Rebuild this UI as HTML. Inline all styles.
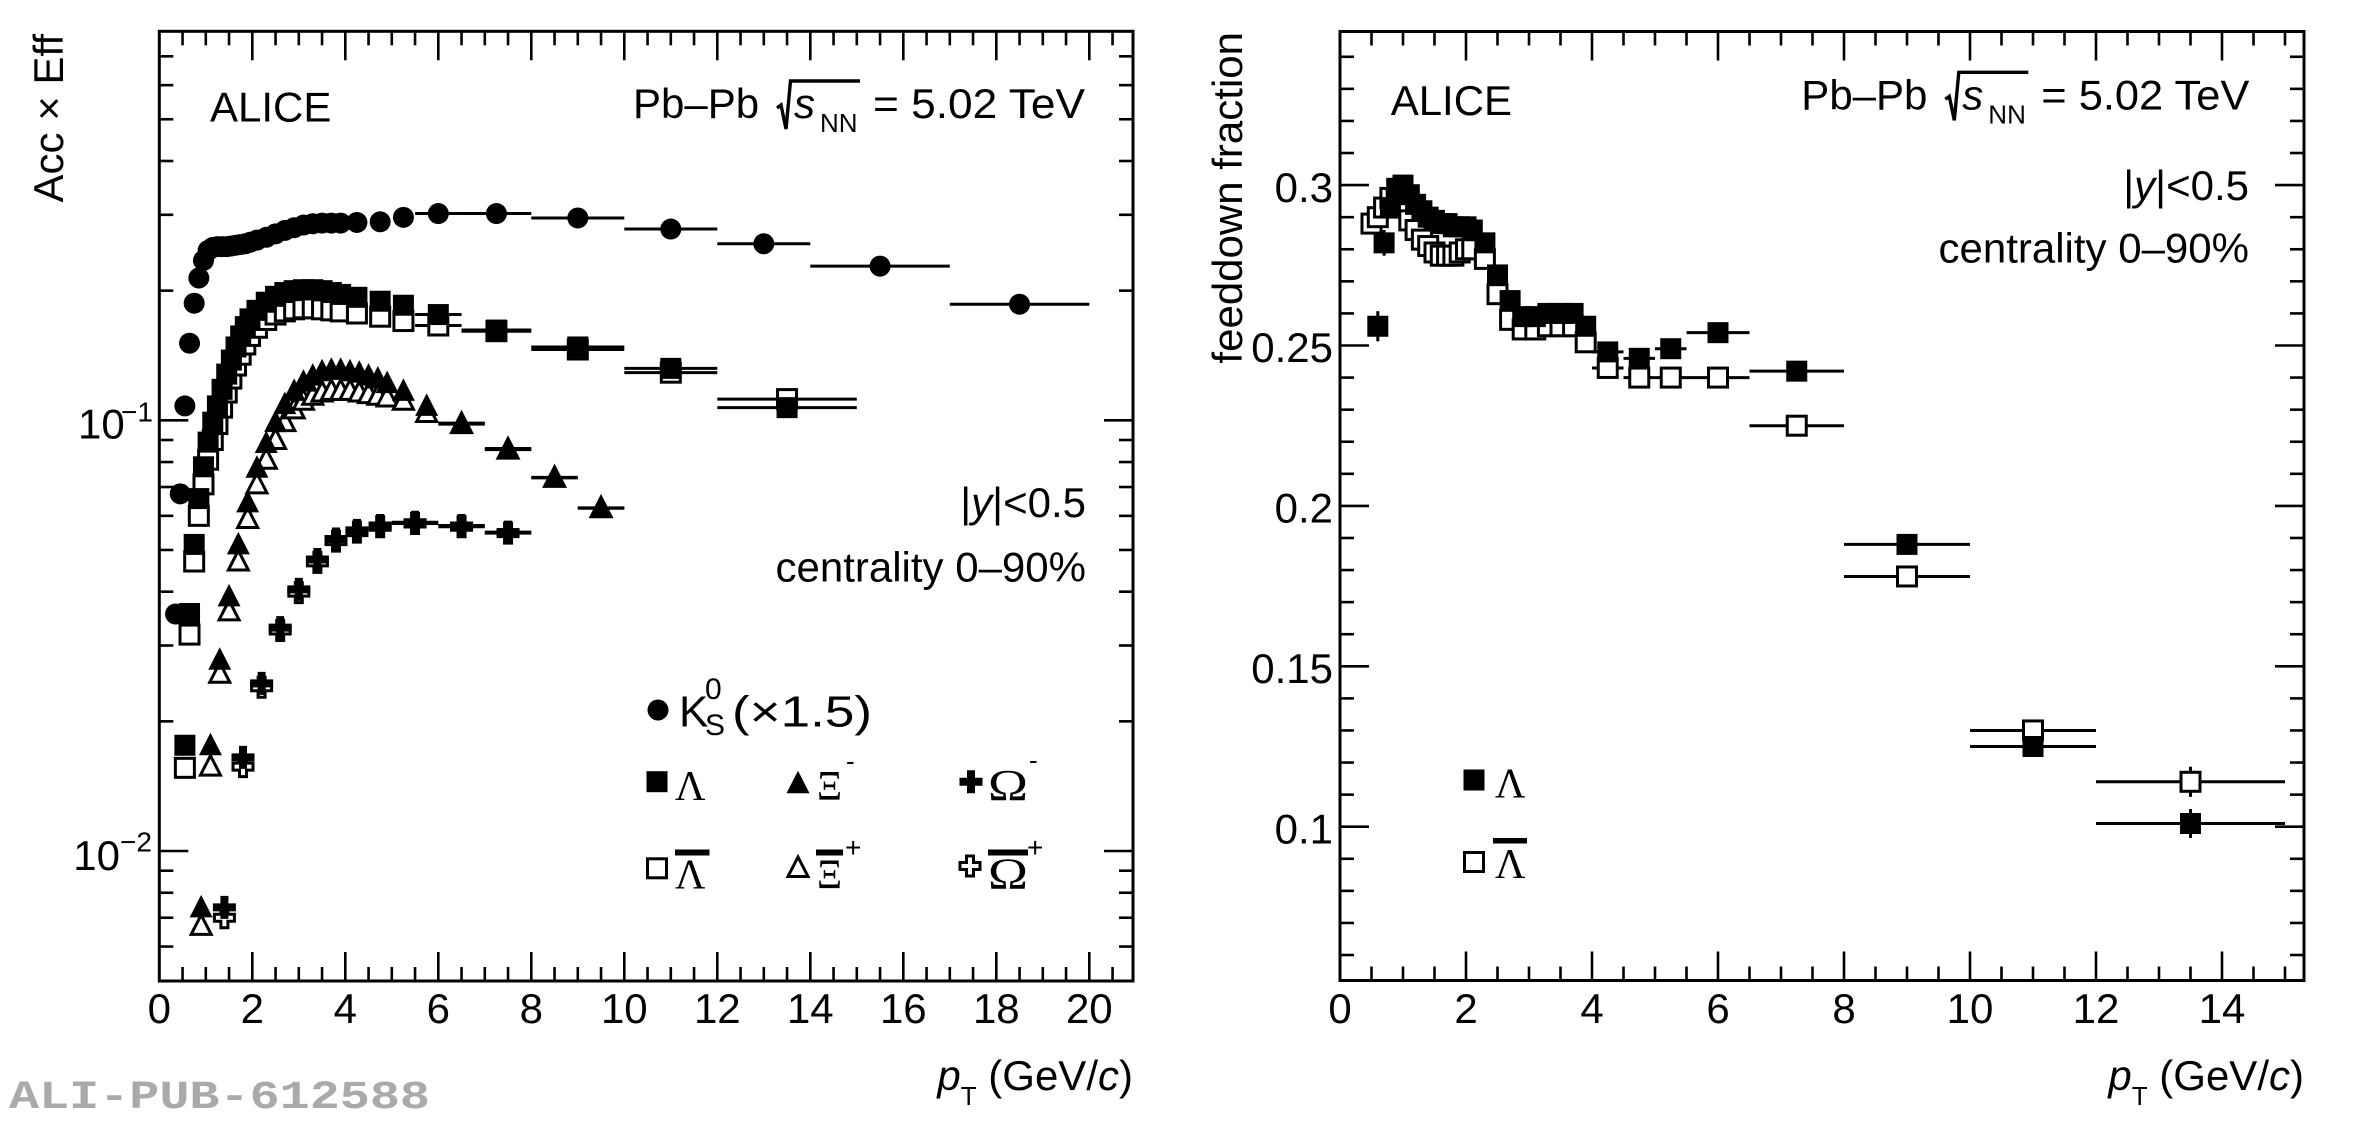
<!DOCTYPE html>
<html><head><meta charset="utf-8">
<style>
html,body{margin:0;padding:0;background:#fff;}
svg{display:block;}
text{font-family:"Liberation Sans",Arial,sans-serif;font-size:42px;fill:#000;}
.ser{font-family:"Liberation Serif","Times New Roman",serif;}
.it{font-style:italic;}
</style></head><body>
<svg id="c" width="2362" height="1125" viewBox="0 0 2362 1125" xmlns="http://www.w3.org/2000/svg">
<rect x="0" y="0" width="2362" height="1125" fill="#fff"/>
<g id="dyn"></g>
<!-- frames -->
<rect x="159.3" y="31.3" width="973.7" height="949.7" fill="none" stroke="#000" stroke-width="3"/>
<rect x="1340" y="31.5" width="964" height="949" fill="none" stroke="#000" stroke-width="3"/>

<!-- LEFT tick labels -->
<g text-anchor="middle">
<text x="159.3" y="1023">0</text><text x="252.3" y="1023">2</text><text x="345.3" y="1023">4</text>
<text x="438.3" y="1023">6</text><text x="531.3" y="1023">8</text><text x="624.3" y="1023">10</text>
<text x="717.3" y="1023">12</text><text x="810.3" y="1023">14</text><text x="903.3" y="1023">16</text>
<text x="996.3" y="1023">18</text><text x="1089.3" y="1023">20</text>
</g>
<text x="78" y="438.3">10</text><text x="121" y="421.5" style="font-size:28px">−1</text>
<text x="73.3" y="870">10</text><text x="120" y="851.5" style="font-size:28px">−2</text>

<!-- RIGHT tick labels -->
<g text-anchor="middle">
<text x="1340" y="1023">0</text><text x="1466" y="1023">2</text><text x="1592" y="1023">4</text>
<text x="1718" y="1023">6</text><text x="1844" y="1023">8</text><text x="1970" y="1023">10</text>
<text x="2096" y="1023">12</text><text x="2222" y="1023">14</text>
</g>
<g text-anchor="end">
<text x="1333" y="843.3">0.1</text><text x="1333" y="683">0.15</text><text x="1333" y="522.6">0.2</text>
<text x="1333" y="362.2">0.25</text><text x="1333" y="201.8">0.3</text>
</g>

<!-- axis titles -->
<text transform="translate(63,34) rotate(-90)" text-anchor="end">Acc × Eff</text>
<text transform="translate(1242,32) rotate(-90)" text-anchor="end">feeddown fraction</text>
<text x="1133" y="1090" text-anchor="end"><tspan class="it">p</tspan><tspan dy="15" style="font-size:26px">T</tspan><tspan dy="-15"> (GeV/</tspan><tspan class="it">c</tspan>)</text>
<text x="2304" y="1090" text-anchor="end"><tspan class="it">p</tspan><tspan dy="15" style="font-size:26px">T</tspan><tspan dy="-15"> (GeV/</tspan><tspan class="it">c</tspan>)</text>

<!-- ALICE -->
<text x="210" y="121.7">ALICE</text>
<text x="1390.7" y="115">ALICE</text>

<!-- Pb-Pb labels -->
<g transform="translate(633,118)">
 <text x="0" y="0">Pb–Pb</text>
 <path d="M144,-10 L148,-13 L153,11 L157.5,-37 L227,-37" fill="none" stroke="#000" stroke-width="3.4" stroke-linejoin="miter"/>
 <text x="161" y="0" class="it">s</text>
 <text x="187" y="14" style="font-size:26px">NN</text>
 <text x="240" y="0" textLength="212" lengthAdjust="spacingAndGlyphs">= 5.02 TeV</text>
</g>
<g transform="translate(1801.3,109.3)">
 <text x="0" y="0">Pb–Pb</text>
 <path d="M144,-10 L148,-13 L153,11 L157.5,-37 L227,-37" fill="none" stroke="#000" stroke-width="3.4" stroke-linejoin="miter"/>
 <text x="161" y="0" class="it">s</text>
 <text x="187" y="14" style="font-size:26px">NN</text>
 <text x="240" y="0" textLength="208" lengthAdjust="spacingAndGlyphs">= 5.02 TeV</text>
</g>

<!-- rapidity / centrality -->
<text x="1086" y="517" text-anchor="end">|<tspan class="it">y</tspan>|&lt;0.5</text>
<text x="1086" y="581.7" text-anchor="end">centrality 0–90%</text>
<text x="2249" y="200" text-anchor="end">|<tspan class="it">y</tspan>|&lt;0.5</text>
<text x="2249" y="262.7" text-anchor="end">centrality 0–90%</text>

<!-- left legend text -->
<text x="679" y="726.7" style="font-size:44px">K</text>
<text x="705" y="699" style="font-size:30px">0</text>
<text x="705" y="735" style="font-size:30px">S</text>
<text x="732" y="726.7" style="font-size:44px" textLength="140" lengthAdjust="spacingAndGlyphs">(×1.5)</text>

<text class="ser" x="675" y="800">Λ</text>
<text class="ser" x="817" y="800" textLength="25" lengthAdjust="spacingAndGlyphs">Ξ</text>
<text x="846" y="770" style="font-size:26px">-</text>
<text class="ser" x="988" y="800" style="font-size:44px" textLength="40" lengthAdjust="spacingAndGlyphs">Ω</text>
<text x="1029" y="769" style="font-size:26px">-</text>

<text class="ser" x="675" y="888.3">Λ</text>
<rect x="675" y="849.5" width="34.5" height="6" fill="#000"/>
<text class="ser" x="817" y="888.3" textLength="25" lengthAdjust="spacingAndGlyphs">Ξ</text>
<rect x="816" y="849.5" width="27" height="6" fill="#000"/>
<text x="845" y="857" style="font-size:28px">+</text>
<text class="ser" x="988" y="888.3" style="font-size:44px" textLength="40" lengthAdjust="spacingAndGlyphs">Ω</text>
<rect x="988" y="849.5" width="40" height="6" fill="#000"/>
<text x="1027" y="857" style="font-size:28px">+</text>

<!-- right legend text -->
<text class="ser" x="1495" y="797.3">Λ</text>
<text class="ser" x="1495" y="878">Λ</text>
<rect x="1493" y="838" width="34" height="5.5" fill="#000"/>

<!-- watermark -->
<text x="9" y="1108" style="font-family:'Liberation Mono',monospace;font-weight:bold;font-size:40px;fill:#aaaaaa" textLength="421" lengthAdjust="spacingAndGlyphs">ALI-PUB-612588</text>
</svg>
<script>
(function(){
const NS="http://www.w3.org/2000/svg";
const G=document.getElementById('dyn');
function el(t,a){const e=document.createElementNS(NS,t);for(const k in a)e.setAttribute(k,a[k]);G.appendChild(e);return e;}
function ln(x1,y1,x2,y2,w){el('line',{x1:x1,y1:y1,x2:x2,y2:y2,stroke:'#000','stroke-width':w||3});}
function mk(type,x,y,open){
 if(type==='c'){el('circle',{cx:x,cy:y,r:10.5,fill:'#000'});return;}
 if(type==='s'){
   if(open) el('rect',{x:x-9.5,y:y-9.5,width:19,height:19,fill:'#fff',stroke:'#000','stroke-width':3});
   else el('rect',{x:x-10.5,y:y-10.5,width:21,height:21,fill:'#000'});
   return;}
 if(type==='t'){
   if(open) el('polygon',{points:x+','+(y-11)+' '+(x-10)+','+(y+8.5)+' '+(x+10)+','+(y+8.5),fill:'#fff',stroke:'#000','stroke-width':3});
   else el('polygon',{points:x+','+(y-12.5)+' '+(x-11.5)+','+(y+10)+' '+(x+11.5)+','+(y+10),fill:'#000'});
   return;}
 if(type==='x'){
   const a=open?10:11.5, b=open?3.5:4;
   const p=[[-b,-a],[b,-a],[b,-b],[a,-b],[a,b],[b,b],[b,a],[-b,a],[-b,b],[-a,b],[-a,-b],[-b,-b]].map(q=>(x+q[0])+','+(y+q[1])).join(' ');
   el('polygon',open?{points:p,fill:'#fff',stroke:'#000','stroke-width':3}:{points:p,fill:'#000'});
 }
}
// mappings
const LX0=159.3,LX1=1133,LY0=31.3,LY1=981;
const RX0=1340,RX1=2304,RY0=31.5,RY1=980.5;
const L={x:p=>LX0+46.5*p, y:v=>420.3-430.7*Math.log10(v/0.1)};
const R={x:p=>RX0+63*p, y:v=>826.7-3208*(v-0.1)};
const TW=2.6;
// left x ticks
for(let i=1;i<=44;i++){const t=i*0.5;const x=L.x(t);if(x>=LX1-2)break;const len=(i%4===0)?29:14;
  ln(x,LY1,x,LY1-len,TW);ln(x,LY0,x,LY0+len,TW);}
// left y ticks
const ly=[];
for(let d=5;d<=9;d++)ly.push([d*0.001,14]);
ly.push([0.01,29]);
for(let d=2;d<=9;d++)ly.push([d*0.01,14]);
ly.push([0.1,29]);
for(let d=2;d<=8;d++)ly.push([d*0.1,14]);
for(const [v,len] of ly){const y=L.y(v);if(y>LY1-1||y<LY0+1)continue;
  ln(LX0,y,LX0+len,y,TW);ln(LX1,y,LX1-len,y,TW);}
// right x ticks
for(let i=1;i<=32;i++){const t=i*0.5;const x=R.x(t);if(x>=RX1-2)break;const len=(i%4===0)?29:14;
  ln(x,RY1,x,RY1-len,TW);ln(x,RY0,x,RY0+len,TW);}
// right y ticks
for(let i=6;i<=34;i++){const v=i/100;const y=R.y(v);if(y>RY1-1||y<RY0+1)continue;const len=(i%5===0)?29:14;
  ln(RX0,y,RX0+len,y,TW);ln(RX1,y,RX1-len,y,TW);}

function series(data,M,type,open){
  for(const d of data){
    const pt=d[0],v=d[1];const x=M.x(pt),y=M.y(v);
    if(d.length>=4&&d[2]!==null){ln(M.x(d[2]),y,M.x(d[3]),y,3);}
    if(d.length>=5&&d[4]){ln(x,M.y(v+d[4]),x,M.y(v-d[4]),3);}
    mk(type,x,y,open);
  }
}
// LEFT DATA
const K0=[[0.35,0.0355],[0.45,0.0675],[0.55,0.108],[0.65,0.151],[0.75,0.187],[0.85,0.214],[0.95,0.235],[1.05,0.248],[1.15,0.252],[1.25,0.253],[1.35,0.253],[1.45,0.253],[1.55,0.254],[1.65,0.255],[1.75,0.256],[1.85,0.257],[1.95,0.259],[2.1,0.262],[2.3,0.266],[2.5,0.271],[2.7,0.276],[2.9,0.28],[3.1,0.284],[3.3,0.286],[3.5,0.287],[3.7,0.287],[3.9,0.287],[4.25,0.288],[4.75,0.289],[5.25,0.296],[6.0,0.302,5.5,6.5],[7.25,0.302,6.5,8],[9,0.295,8,10],[11,0.278,10,12],[13,0.257,12,14],[15.5,0.228,14,17],[18.5,0.186,17,20]];
const LAM=[[0.55,0.0176],[0.65,0.0356],[0.75,0.0515],[0.85,0.0658],[0.95,0.078],[1.05,0.089],[1.15,0.099],[1.25,0.108],[1.35,0.118],[1.45,0.128],[1.55,0.138],[1.65,0.148],[1.75,0.157],[1.85,0.165],[1.95,0.172],[2.1,0.180],[2.3,0.188],[2.5,0.194],[2.7,0.198],[2.9,0.200],[3.1,0.201],[3.3,0.201],[3.5,0.200],[3.7,0.198],[3.9,0.196],[4.25,0.193],[4.75,0.189],[5.25,0.185],[6.0,0.176,5.5,6.5],[7.25,0.162,6.5,8],[9,0.148,8,10],[11,0.132,10,12],[13.5,0.107,12,15]];
const ALAM=[[0.55,0.0156],[0.65,0.0318],[0.75,0.047],[0.85,0.060],[0.95,0.071],[1.05,0.081],[1.15,0.090],[1.25,0.098],[1.35,0.107],[1.45,0.116],[1.55,0.125],[1.65,0.134],[1.75,0.142],[1.85,0.150],[1.95,0.157],[2.1,0.164],[2.3,0.171],[2.5,0.176],[2.7,0.179],[2.9,0.181],[3.1,0.182],[3.3,0.182],[3.5,0.181],[3.7,0.180],[3.9,0.179],[4.25,0.177],[4.75,0.174],[5.25,0.170],[6.0,0.166,5.5,6.5],[7.25,0.161,6.5,8],[9,0.146,8,10],[11,0.129,10,12],[13.5,0.112,12,15]];
const XI=[[0.9,0.0074],[1.1,0.0176],[1.3,0.0278],[1.5,0.039],[1.7,0.0515],[1.9,0.0645],[2.1,0.0776],[2.3,0.0886],[2.5,0.099],[2.7,0.109],[2.9,0.117],[3.1,0.123],[3.3,0.127],[3.5,0.130],[3.7,0.131],[3.9,0.131],[4.1,0.130],[4.3,0.129],[4.5,0.127],[4.7,0.125],[4.9,0.122],[5.25,0.117],[5.75,0.108],[6.5,0.0985,6,7],[7.5,0.086,7,8],[8.5,0.0737,8,9],[9.5,0.0626,9,10]];
const AXI=[[0.9,0.0067],[1.1,0.0157],[1.3,0.0258],[1.5,0.036],[1.7,0.047],[1.9,0.059],[2.1,0.071],[2.3,0.081],[2.5,0.090],[2.7,0.099],[2.9,0.106],[3.1,0.111],[3.3,0.114],[3.5,0.116],[3.7,0.117],[3.9,0.117],[4.1,0.117],[4.3,0.116],[4.5,0.115],[4.7,0.114],[4.9,0.113],[5.25,0.111],[5.75,0.104],[6.5,0.098,6,7],[7.5,0.0855,7,8],[8.5,0.0735,8,9],[9.5,0.0625,9,10]];
const OM=[[1.4,0.0074],[1.8,0.0165],[2.2,0.0245],[2.6,0.033],[3.0,0.0405],[3.4,0.0475],[3.8,0.053],[4.25,0.0555],[4.75,0.057],[5.5,0.058,5,6],[6.5,0.057,6,7],[7.5,0.055,7,8]];
const AOM=[[1.4,0.0070],[1.8,0.0157],[2.2,0.024],[2.6,0.0325],[3.0,0.0398],[3.4,0.0468],[3.8,0.0524],[4.25,0.055],[4.75,0.0566],[5.5,0.0576,5,6],[6.5,0.0566,6,7],[7.5,0.0547,7,8]];
series(ALAM,L,'s',true);
series(AXI,L,'t',true);
series(AOM,L,'x',true);
series(K0,L,'c',false);
series(LAM,L,'s',false);
series(XI,L,'t',false);
series(OM,L,'x',false);
// RIGHT DATA
const RL=[[0.6,0.256,null,null,0.0047],[0.7,0.282,null,null,0.004],[0.8,0.293],[0.9,0.299],[1.0,0.300,null,null,0.002],[1.1,0.297],[1.2,0.294],[1.3,0.292],[1.4,0.290],[1.5,0.289],[1.6,0.288],[1.7,0.288],[1.8,0.287],[1.9,0.287],[2.0,0.287],[2.1,0.286],[2.3,0.282],[2.5,0.272],[2.7,0.264],[2.9,0.259],[3.1,0.259],[3.3,0.26],[3.5,0.26],[3.7,0.26],[3.9,0.256],[4.25,0.248,4,4.5],[4.75,0.246,4.5,5],[5.25,0.249,5,5.5],[6,0.254,5.5,6.5],[7.25,0.242,6.5,8],[9,0.188,8,10,0.003],[11,0.125,10,12,0.002],[13.5,0.101,12,15,0.0045]];
const RA=[[0.5,0.288],[0.6,0.290],[0.7,0.293],[0.8,0.296],[0.9,0.296],[1.0,0.293],[1.1,0.289],[1.2,0.286],[1.3,0.283],[1.4,0.281],[1.5,0.279],[1.6,0.278],[1.7,0.278],[1.8,0.278],[1.9,0.279],[2.0,0.280],[2.1,0.280],[2.3,0.277],[2.5,0.266],[2.7,0.258],[2.9,0.255],[3.1,0.255],[3.3,0.256],[3.5,0.256],[3.7,0.256],[3.9,0.251],[4.25,0.243,4,4.5],[4.75,0.240,4.5,5],[5.25,0.240,5,5.5],[6,0.240,5.5,6.5],[7.25,0.225,6.5,8],[9,0.178,8,10],[11,0.130,10,12,0.002],[13.5,0.114,12,15,0.0047]];
series(RA,R,'s',true);
series(RL,R,'s',false);
// legends
mk('c',658,710,false);
mk('s',657,781.7,false);
mk('t',798,783.3,false);
mk('x',971,781.7,false);
mk('s',657,868.3,true);
mk('t',798,868,true);
mk('x',970,866,true);
mk('s',1474,780,false);
mk('s',1474,862,true);
})();
</script>
</body></html>
